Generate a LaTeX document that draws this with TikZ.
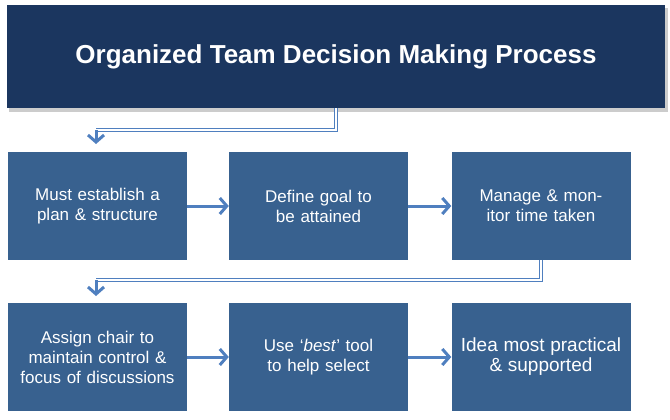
\documentclass[tikz,border=0pt]{standalone}
\usepackage{fontspec}
\setmainfont{Liberation Sans}
\usetikzlibrary{arrows.meta}
\definecolor{navy}{HTML}{1B365F}
\definecolor{boxc}{HTML}{38618F}
\definecolor{lnc}{HTML}{4F7FBF}
\begin{document}
\begin{tikzpicture}[x=1pt,y=-1pt,
  stepbox/.style={fill=boxc,text=white,minimum width=179pt,minimum height=108pt,inner sep=0pt,
    align=center,font=\fontsize{17}{20}\selectfont,text width=165pt,drop shadow/.try},
  conn/.style={draw=lnc,line width=3pt,-{Straight Barb[length=7pt,width=16pt,line width=3pt]}},
  elb/.style={draw=lnc,double=white,double distance=2pt,line width=0.8pt}]
\useasboundingbox (0,0) rectangle (670,420);
\fill[gray!40] (9,8) rectangle (668,112);
\node[fill=navy,text=white,minimum width=658pt,minimum height=103pt,inner sep=0pt,
  font=\fontsize{26}{30}\selectfont\bfseries] (t) at (336,56.5) {Organized Team Decision Making Process};
\node[stepbox] (a) at (97.5,206) {Must establish a plan \& structure};
\node[stepbox] (b) at (318.5,206) {Define goal to be attained};
\node[stepbox] (c) at (541,206) {Manage \& monitor time taken};
\node[stepbox] (d) at (97.5,357) {Assign chair to maintain control \& focus of discussions};
\node[stepbox] (e) at (318.5,357) {Use `\textit{best}' tool to help select};
\node[stepbox] (f) at (541,357) {\fontsize{19}{22}\selectfont Idea most practical \& supported};
\coordinate (k1) at (96,130);
\coordinate (k2) at (96,280);
\draw[elb] (t.south -| 336,0) |- (k1);
\draw[elb] (c.south) |- (k2);
\draw[conn] (k1) -- ++(0,14);
\draw[conn] (k2) -- ++(0,16);
\draw[conn] (a) -- (b);
\draw[conn] (b) -- (c);
\draw[conn] (d) -- (e);
\draw[conn] (e) -- (f);
\end{tikzpicture}
\end{document}
